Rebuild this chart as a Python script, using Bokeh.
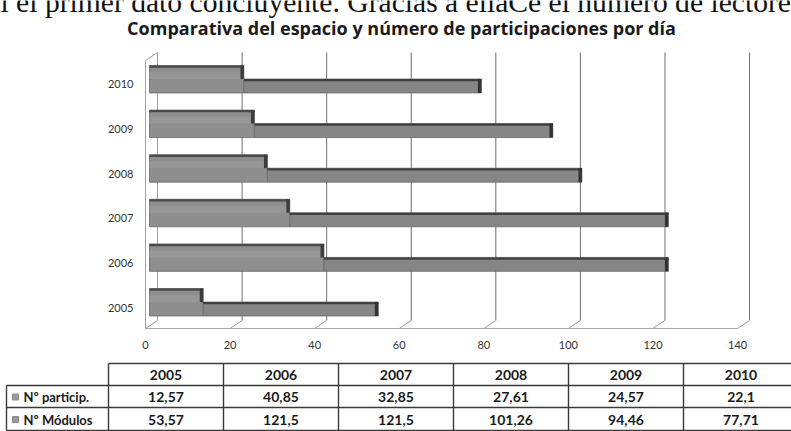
from bokeh.plotting import figure
from bokeh.layouts import column
from bokeh.models import Range1d, LinearAxis, FixedTicker
from bokeh.core.properties import value
from bokeh.embed import file_html
from bokeh.resources import INLINE

# ---- data ---------------------------------------------------------------
years = ["2005", "2006", "2007", "2008", "2009", "2010"]
particip = [12.57, 40.85, 32.85, 27.61, 24.57, 22.1]
modulos = [53.57, 121.5, 121.5, 101.26, 94.46, 77.71]
series_names = ["Nº particip.", "Nº Módulos"]
x_ticks = [0, 20, 40, 60, 80, 100, 120, 140]
title_text = "Comparativa del espacio y número de participaciones por día"
body_text = "l el primer dato concluyente. Gracias a ellaCe el número de lectore"


def fmt(v):
    return f"{v:g}".replace(".", ",")


FONT = "Lato"
W = 791
H_HEAD = 50
H_CHART = 307
H_TABLE = 431 - H_HEAD - H_CHART


def bare(fig):
    fig.frame_align = False
    fig.outline_line_color = None
    fig.grid.visible = False
    return fig


# ---- header: running text line and chart title -------------------------
h = bare(figure(width=W, height=H_HEAD, x_range=Range1d(0, W), y_range=Range1d(H_HEAD, 0),
                output_backend="svg", toolbar_location=None,
                x_axis_location=None, y_axis_location=None, min_border=0))
h.text(x=[0], y=[1], text=[body_text], text_font=value("Liberation Serif"),
       text_font_size="29.6px", text_baseline="middle", text_align="left",
       text_color="#111111")
h.text(x=[401], y=[27], text=[title_text], text_font=value("Open Sans"),
       text_font_style="bold", text_font_size="18px", text_baseline="middle",
       text_align="center", text_color="#1a1a1a")

# ---- 3D bar chart -------------------------------------------------------
p = bare(figure(
    width=W, height=H_CHART,
    x_range=Range1d(-2.108, 143.09), y_range=Range1d(-0.538, 5.762),
    x_axis_location=None,
    output_backend="svg", toolbar_location=None,
    min_border_left=140, min_border_right=31,
    min_border_top=0, min_border_bottom=26,
))

# front plane (labels) and back wall (grid) projections of the value axis
p.extra_x_ranges = {
    "front": Range1d(-1.182, 145.42),
    "back": Range1d(-4.02, 142.59),
}

ax = LinearAxis(x_range_name="front", ticker=FixedTicker(ticks=x_ticks))
ax.axis_line_color = None
ax.major_tick_line_color = None
ax.minor_tick_line_color = None
ax.major_label_standoff = 3
ax.major_label_text_font = FONT
ax.major_label_text_font_size = "11px"
ax.major_label_text_color = "#333333"
p.add_layout(ax, "below")

yax = p.yaxis[0]
yax.ticker = FixedTicker(ticks=list(range(len(years))))
yax.major_label_overrides = {i: y for i, y in enumerate(years)}
yax.axis_line_color = None
yax.major_tick_line_color = None
yax.minor_tick_line_color = None
yax.major_label_standoff = 1
yax.major_label_text_font = FONT
yax.major_label_text_font_size = "11px"
yax.major_label_text_color = "#333333"

# depth geometry of the box (y units)
Y_FLOOR_FRONT = -0.471
Y_FLOOR_BACK = -0.291
Y_TOP_BACK = 5.717
Y_TOP_FRONT = 5.538
DEPTH_X = 2.84  # horizontal shift between back wall and front plane

# back-wall gridlines
p.segment(x0=x_ticks[1:], x1=x_ticks[1:], y0=Y_FLOOR_BACK, y1=Y_TOP_BACK,
          x_range_name="back", line_color="#6f6f6f", line_width=1)
# left wall
p.segment(x0=[0, -DEPTH_X, -DEPTH_X], x1=[0, -DEPTH_X, 0],
          y0=[Y_FLOOR_BACK, Y_FLOOR_FRONT, Y_TOP_FRONT],
          y1=[Y_TOP_BACK, Y_TOP_FRONT, Y_TOP_BACK],
          x_range_name="back", line_color="#a0a0a0", line_width=1)
# floor edges
p.segment(x0=[t - DEPTH_X for t in x_ticks], x1=x_ticks,
          y0=Y_FLOOR_FRONT, y1=Y_FLOOR_BACK,
          x_range_name="back", line_color="#9a9a9a", line_width=1)
p.segment(x0=[-DEPTH_X], x1=[x_ticks[-1] - DEPTH_X],
          y0=[Y_FLOOR_FRONT], y1=[Y_FLOOR_FRONT],
          x_range_name="back", line_color="#a8a8a8", line_width=1)

# bar geometry relative to each category centre
TOP = 0.426
STEP = 0.123
BOT = -0.19
EDGE = 0.05
CAP = 0.8
idx = list(range(len(years)))

# Nº particip. (full-height part, behind)
p.quad(left=0, right=particip, bottom=[i + BOT for i in idx], top=[i + TOP for i in idx],
       fill_color="#8e8e8e", line_color="#6a6a6a", line_width=0.8)
p.quad(left=0, right=particip, bottom=[i + STEP for i in idx], top=[i + (TOP + STEP) / 2 for i in idx],
       fill_color="#979797", line_color=None)
p.quad(left=0, right=particip, bottom=[i + TOP - EDGE for i in idx], top=[i + TOP for i in idx],
       fill_color="#4a4a4a", line_color=None)
p.quad(left=[v - CAP for v in particip], right=particip,
       bottom=[i + STEP for i in idx], top=[i + TOP for i in idx],
       fill_color="#3c3c3c", line_color=None)

# Nº Módulos (lower part, front)
p.quad(left=particip, right=modulos, bottom=[i + BOT for i in idx], top=[i + STEP for i in idx],
       fill_color="#868686", line_color="#6a6a6a", line_width=0.8)
p.quad(left=particip, right=modulos, bottom=[i + STEP - EDGE for i in idx], top=[i + STEP for i in idx],
       fill_color="#404040", line_color=None)
p.quad(left=[v - CAP for v in modulos], right=modulos,
       bottom=[i + BOT for i in idx], top=[i + STEP for i in idx],
       fill_color="#333333", line_color=None)

# ---- data table ---------------------------------------------------------
t = bare(figure(width=W, height=H_TABLE, x_range=Range1d(0, W), y_range=Range1d(H_TABLE, 0),
                output_backend="svg", toolbar_location=None,
                x_axis_location=None, y_axis_location=None, min_border=0))

LABEL_L, LABEL_R, COL_W = 6, 108, 115
ROW_Y = [6, 28, 50, 73]
col_edges = [LABEL_R + COL_W * k for k in range(len(years) + 1)]
col_mid = [LABEL_R + COL_W * (k + 0.5) for k in range(len(years))]
LINE = "#3a3a3a"

t.segment(x0=[LABEL_R, LABEL_L, LABEL_L, LABEL_L], x1=[W + 10] * 4,
          y0=ROW_Y, y1=ROW_Y, line_color=LINE, line_width=1.4)
t.segment(x0=[LABEL_L] + col_edges, x1=[LABEL_L] + col_edges,
          y0=[ROW_Y[1]] + [ROW_Y[0]] * len(col_edges), y1=ROW_Y[3],
          line_color=LINE, line_width=1.4)

row_mid = [(ROW_Y[k] + ROW_Y[k + 1]) / 2 + 0.5 for k in range(3)]
txt = dict(text_font=value(FONT), text_font_style="bold",
           text_baseline="middle", text_color="#1a1a1a")
t.text(x=col_mid, y=[row_mid[0]] * len(years), text=years, text_align="center",
       text_font_size="14px", **txt)
t.text(x=col_mid, y=[row_mid[1]] * len(years), text=[fmt(v) for v in particip],
       text_align="center", text_font_size="14px", **txt)
t.text(x=col_mid, y=[row_mid[2]] * len(years), text=[fmt(v) for v in modulos],
       text_align="center", text_font_size="14px", **txt)

t.rect(x=[15, 15], y=row_mid[1:], width=6, height=6, fill_color="#9a9a9a",
       line_color="#8a8a8a")
t.text(x=[23, 23], y=row_mid[1:], text=series_names, text_align="left",
       text_font_size="13px", **txt)

layout = column(h, p, t, spacing=0)
open("out.html", "w").write(file_html(layout, INLINE))
